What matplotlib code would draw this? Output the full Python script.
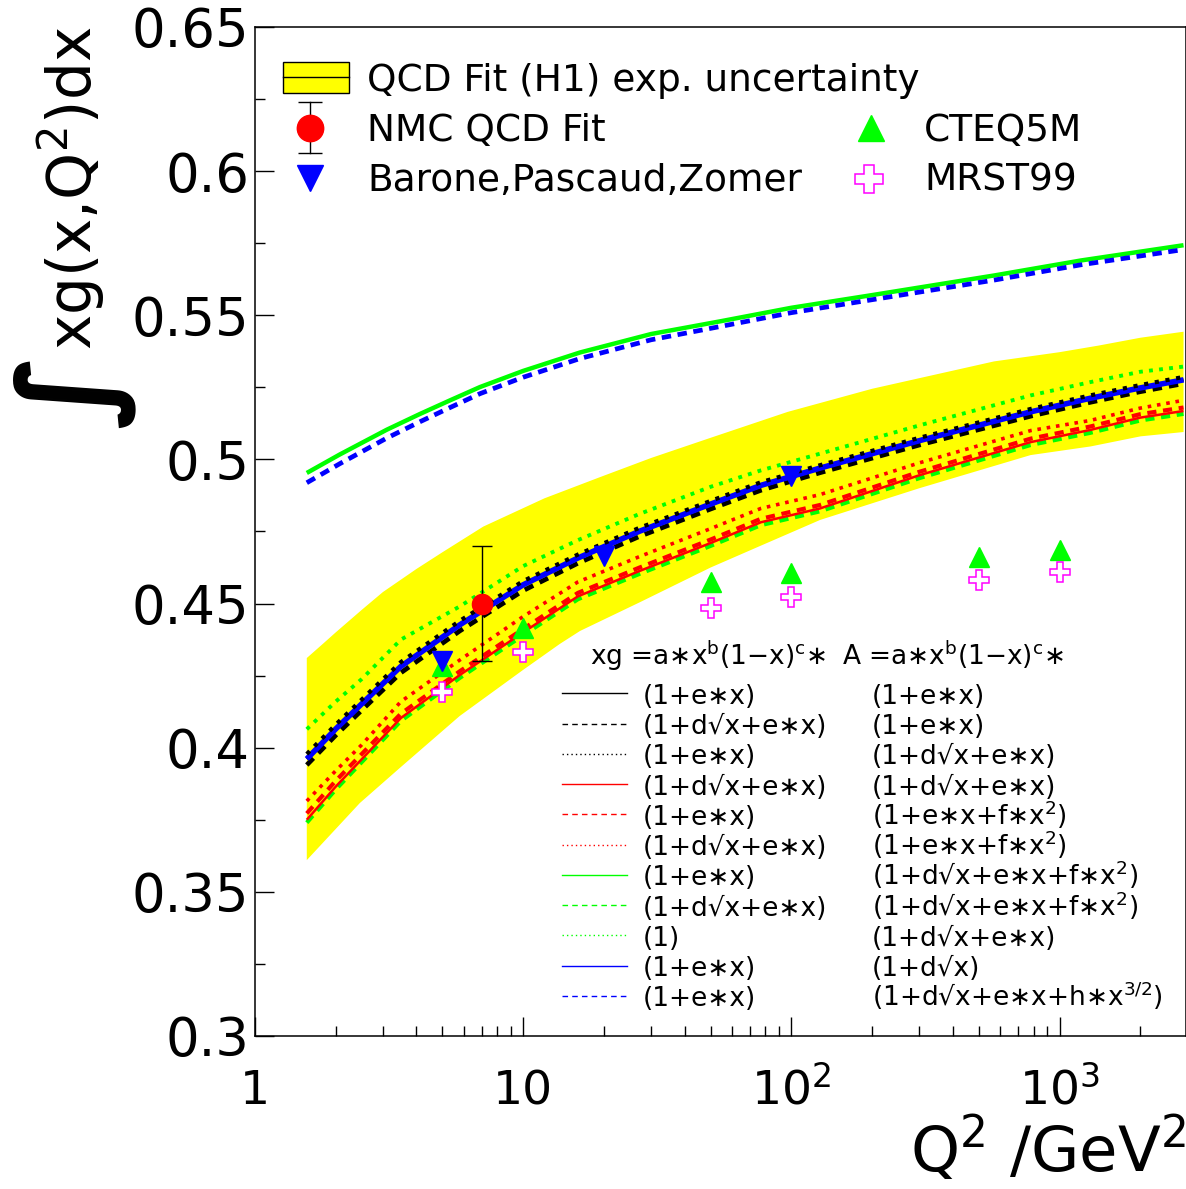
import numpy as np
import matplotlib
matplotlib.use("Agg")
import matplotlib.pyplot as plt
from matplotlib.ticker import MultipleLocator, FixedLocator, LogLocator, NullFormatter, FuncFormatter
from matplotlib.patches import Rectangle

plt.rcParams['font.family'] = ['DejaVu Sans']
plt.rcParams['mathtext.default'] = 'regular'

# ------------------------------------------------------------
# values
# ------------------------------------------------------------
Q2_CURVE = [1.56, 2.0, 2.5, 3.5, 5.8, 10, 16, 27, 50, 77, 128, 300, 780, 1300, 2000, 2900]
BLACK_SOLID = [0.3961, 0.4065, 0.4152, 0.4282, 0.4426, 0.4565, 0.4658, 0.4750, 0.4845,
               0.4910, 0.4970, 0.5065, 0.5165, 0.5212, 0.5248, 0.5276]
BLUE_SOLID = [0.3961, 0.4065, 0.4152, 0.4282, 0.4426, 0.4565, 0.4658, 0.4750, 0.4845,
              0.4910, 0.4970, 0.5065, 0.5165, 0.5212, 0.5248, 0.5276]
BLACK_DOTTED = [0.3978, 0.4080, 0.4167, 0.4297, 0.4440, 0.4578, 0.4670, 0.4762, 0.4856,
                0.4921, 0.4980, 0.5075, 0.5175, 0.5222, 0.5258, 0.5286]
BLACK_DASHED = [0.3940, 0.4043, 0.4130, 0.4260, 0.4405, 0.4545, 0.4640, 0.4732, 0.4828,
                0.4893, 0.4954, 0.5050, 0.5150, 0.5198, 0.5235, 0.5263]
GREEN_DOTTED = [0.4064, 0.4160, 0.4238, 0.4375, 0.4490, 0.4630, 0.4720, 0.4810, 0.4905,
                0.4962, 0.5020, 0.5118, 0.5222, 0.5268, 0.5304, 0.5322]
RED_DOTTED = [0.3815, 0.3920, 0.4010, 0.4160, 0.4304, 0.4455, 0.4575, 0.4662, 0.4760,
              0.4830, 0.4878, 0.4988, 0.5100, 0.5135, 0.5178, 0.5205]
RED_SOLID = [0.3750, 0.3865, 0.3960, 0.4103, 0.4252, 0.4400, 0.4525, 0.4612, 0.4710,
             0.4782, 0.4830, 0.4945, 0.5060, 0.5102, 0.5145, 0.5168]
RED_DASHED = [0.3772, 0.3885, 0.3978, 0.4118, 0.4265, 0.4412, 0.4537, 0.4624, 0.4722,
              0.4794, 0.4842, 0.4957, 0.5072, 0.5114, 0.5157, 0.5180]
GREEN_DASHED = [0.3740, 0.3855, 0.3950, 0.4093, 0.4242, 0.4390, 0.4515, 0.4602, 0.4700,
                0.4772, 0.4820, 0.4935, 0.5050, 0.5092, 0.5135, 0.5158]

Q2_UPPER = [1.56, 2.07, 3.1, 4.13, 5.34, 6.9, 10, 16.3, 30, 55, 100, 200, 570, 1200, 2900]
GREEN_SOLID = [0.4953, 0.5017, 0.5103, 0.5158, 0.5205, 0.5251, 0.5307, 0.5371, 0.5435,
               0.5480, 0.5526, 0.5570, 0.5638, 0.5690, 0.5743]
BLUE_DASHED = [0.4919, 0.4985, 0.5074, 0.5131, 0.5180, 0.5228, 0.5285, 0.5350, 0.5415,
               0.5462, 0.5509, 0.5554, 0.5622, 0.5675, 0.5728]

Q2_BAND_TOP = [1.56, 1.8, 2.0, 2.5, 3.0, 4.0, 5.0, 7.1, 12, 19.4, 30, 50, 97, 200, 570, 1000,
               1400, 2000, 2900]
BAND_TOP = [0.4311, 0.4362, 0.4400, 0.4478, 0.4540, 0.4620, 0.4678, 0.4767, 0.4865, 0.4939,
            0.5005, 0.5075, 0.5165, 0.5245, 0.5340, 0.5372, 0.5395, 0.5422, 0.5443]
Q2_BAND_LOW = [1.56, 2.46, 3.47, 5.8, 10, 13.7, 16.3, 27.3, 50, 76.6, 128, 300, 780, 1306,
               2005, 2900]
BAND_LOW = [0.3610, 0.3808, 0.3930, 0.4110, 0.4270, 0.4360, 0.4405, 0.4505, 0.4625, 0.4700,
            0.4790, 0.4900, 0.5015, 0.5045, 0.5080, 0.5095]

NMC_Q2 = [7]
NMC = [0.450]
NMC_ERR = [0.020]
BPZ_Q2 = [5, 20, 100]
BPZ = [0.4300, 0.4665, 0.4942]
CTEQ_Q2 = [5, 10, 50, 100, 500, 1000]
CTEQ = [0.4285, 0.4414, 0.4575, 0.4606, 0.4662, 0.4686]
MRST_Q2 = [5, 10, 50, 100, 500, 1000]
MRST = [0.4194, 0.4333, 0.4485, 0.4522, 0.4582, 0.4610]

ROW_LEFT = ["(1+e∗x)", "(1+d√x+e∗x)", "(1+e∗x)", "(1+d√x+e∗x)", "(1+e∗x)", "(1+d√x+e∗x)",
            "(1+e∗x)", "(1+d√x+e∗x)", "(1)", "(1+e∗x)", "(1+e∗x)"]
ROW_RIGHT = ["(1+e∗x)", "(1+e∗x)", "(1+d√x+e∗x)", "(1+d√x+e∗x)", "(1+e∗x+f∗x$^{2}$)",
             "(1+e∗x+f∗x$^{2}$)", "(1+d√x+e∗x+f∗x$^{2}$)", "(1+d√x+e∗x+f∗x$^{2}$)",
             "(1+d√x+e∗x)", "(1+d√x)", "(1+d√x+e∗x+h∗x$^{3/2}$)"]

YELLOW = "#ffff00"
GREEN = "#00ff00"
MAGENTA = "#ff00ff"

# ------------------------------------------------------------
fig = plt.figure(figsize=(11.86, 11.89), dpi=100)
ax = fig.add_axes([0.215, 0.1287, 0.7846, 0.8486])

# uncertainty band
ax.fill(np.r_[Q2_BAND_TOP, Q2_BAND_LOW[::-1]], np.r_[BAND_TOP, BAND_LOW[::-1]],
        color=YELLOW, lw=0, zorder=1)

# fit curves
curves = [
    (Q2_CURVE, GREEN_DASHED, dict(color=GREEN, lw=3.0, dashes=(2.2, 1.6))),
    (Q2_CURVE, RED_SOLID, dict(color="red", lw=1.8)),
    (Q2_CURVE, RED_DASHED, dict(color="red", lw=3.0, dashes=(2.2, 1.6))),
    (Q2_CURVE, RED_DOTTED, dict(color="red", lw=2.6, dashes=(1.0, 1.6))),
    (Q2_CURVE, GREEN_DOTTED, dict(color=GREEN, lw=2.8, dashes=(1.0, 1.6))),
    (Q2_CURVE, BLACK_DASHED, dict(color="black", lw=3.4, dashes=(2.0, 1.5))),
    (Q2_CURVE, BLACK_SOLID, dict(color="black", lw=2.5)),
    (Q2_CURVE, BLUE_SOLID, dict(color="blue", lw=4.0)),
    (Q2_CURVE, BLACK_DOTTED, dict(color="black", lw=3.0, dashes=(1.0, 1.6))),
    (Q2_UPPER, GREEN_SOLID, dict(color=GREEN, lw=3.2)),
    (Q2_UPPER, BLUE_DASHED, dict(color="blue", lw=3.4, dashes=(2.0, 1.4))),
]
for i, (q, v, st) in enumerate(curves):
    ax.plot(q, v, zorder=2 + i * 0.1, solid_capstyle="butt", dash_capstyle="butt", **st)

# data points
ax.errorbar(NMC_Q2, NMC, yerr=NMC_ERR, fmt="o", color="red", ms=14.5, ecolor="black",
            elinewidth=1.0, capsize=7, capthick=1.0, zorder=6)
ax.plot(CTEQ_Q2, CTEQ, "^", color=GREEN, ms=14, ls="none", zorder=6)
ax.plot(BPZ_Q2, BPZ, "v", color="blue", ms=14, ls="none", zorder=6)
ax.plot(MRST_Q2, MRST, "P", ms=15, ls="none", mfc="white", mec=MAGENTA, mew=1.1, zorder=7)

# axes
ax.set_xscale("log")
ax.set_xlim(1, 2950)
ax.set_ylim(0.3, 0.65)
ax.yaxis.set_major_locator(MultipleLocator(0.05))
ax.yaxis.set_minor_locator(MultipleLocator(0.025))
ax.yaxis.set_major_formatter(FuncFormatter(lambda v, p: "%g" % round(v, 3)))
ax.xaxis.set_major_locator(FixedLocator([1, 10, 100, 1000]))
ax.xaxis.set_minor_locator(LogLocator(base=10, subs=np.arange(2, 10)))
ax.xaxis.set_minor_formatter(NullFormatter())
ax.set_xticklabels(["1", "10", "10$^{2}$", "10$^{3}$"])
ax.tick_params(which="both", direction="in", top=False, right=False, width=1.0)
ax.tick_params(which="major", length=14)
ax.tick_params(which="minor", length=7)
ax.tick_params(axis="y", labelsize=38, pad=4)
ax.tick_params(axis="x", labelsize=34, pad=49)
for lab in ax.get_xticklabels():
    lab.set_verticalalignment("baseline")
for s in ax.spines.values():
    s.set_linewidth(1.1)

# axis titles
fig.text(1.0, 1 - 1172 / 1189, "Q$^{2}$ /GeV$^{2}$", ha="right", va="baseline", fontsize=45)
fig.text(92 / 1186, 1 - 350 / 1189, "xg(x,Q$^{2}$)dx", rotation=90, rotation_mode="anchor",
         ha="left", va="baseline", fontsize=43)
fig.text(73 / 1186, 1 - 390 / 1189, "∫", rotation=90, ha="center", va="center",
         fontsize=90, fontweight="bold")


# ------------------------------------------------------------
# legends (placed in axes fraction, from pixel positions)
def ax_xy(px, py):
    return (px - 255) / 930.5, (1036 - py) / 1009


tr = ax.transAxes
x0, y0 = ax_xy(283, 93)
x1, y1 = ax_xy(349, 62)
ax.add_patch(Rectangle((x0, y0), x1 - x0, y1 - y0, transform=tr, facecolor=YELLOW,
                       edgecolor="black", lw=1.0, zorder=8, clip_on=False))
ax.plot([x0, x1], [(y0 + y1) / 2] * 2, color="black", lw=1.0, transform=tr, zorder=9)
ax.text(*ax_xy(367, 91), "QCD Fit (H1) exp. uncertainty", transform=tr, fontsize=27,
        va="baseline", zorder=9)

mx, my = ax_xy(310, 128)
_, eb0 = ax_xy(310, 153)
_, eb1 = ax_xy(310, 102)
ax.plot([mx, mx], [eb0, eb1], color="black", lw=1.0, transform=tr, zorder=9)
ax.plot([mx, mx], [eb0, eb1], "_", color="black", ms=17, mew=1.0, transform=tr, zorder=9)
ax.plot([mx], [my], "o", color="red", ms=19, transform=tr, zorder=10)
ax.text(*ax_xy(367, 141), "NMC QCD Fit", transform=tr, fontsize=27, va="baseline")
ax.plot(*ax_xy(310, 178), "v", color="blue", ms=19, transform=tr, zorder=10)
ax.text(*ax_xy(367, 191), "Barone,Pascaud,Zomer", transform=tr, fontsize=27, va="baseline")
ax.plot(*ax_xy(871, 128), "^", color=GREEN, ms=19, transform=tr, zorder=10)
ax.text(*ax_xy(924, 141), "CTEQ5M", transform=tr, fontsize=27, va="baseline")
ax.plot(*ax_xy(869, 179), "P", ms=20, mfc="white", mec=MAGENTA, mew=1.1, transform=tr, zorder=10)
ax.text(*ax_xy(924, 191), "MRST99", transform=tr, fontsize=27, va="baseline")

# parametrisation legend
ax.text(*ax_xy(590, 665), "xg =a∗x$^{b}$(1−x)$^{c}$∗", transform=tr, fontsize=19, va="baseline")
ax.text(*ax_xy(842, 665), "A =a∗x$^{b}$(1−x)$^{c}$∗", transform=tr, fontsize=19, va="baseline")
row_styles = [("black", "-"), ("black", "--"), ("black", ":"), ("red", "-"), ("red", "--"),
              ("red", ":"), (GREEN, "-"), (GREEN, "--"), (GREEN, ":"), ("blue", "-"), ("blue", "--")]
for i, ((c, ls), tl, trt) in enumerate(zip(row_styles, ROW_LEFT, ROW_RIGHT)):
    py = 693.3 + i * 30.27
    lx0, ly = ax_xy(562, py)
    lx1, _ = ax_xy(627, py)
    dash = {"-": None, "--": (4, 3), ":": (1, 2.2)}[ls]
    kw = dict(color=c, lw=1.0, transform=tr, zorder=9)
    if dash:
        kw["dashes"] = dash
    ax.plot([lx0, lx1], [ly, ly], **kw)
    ax.text(*ax_xy(643, py + 10.5), tl, transform=tr, fontsize=19, va="baseline")
    ax.text(*ax_xy(872, py + 10.5), trt, transform=tr, fontsize=19, va="baseline")

fig.savefig("out.png", dpi=100)
